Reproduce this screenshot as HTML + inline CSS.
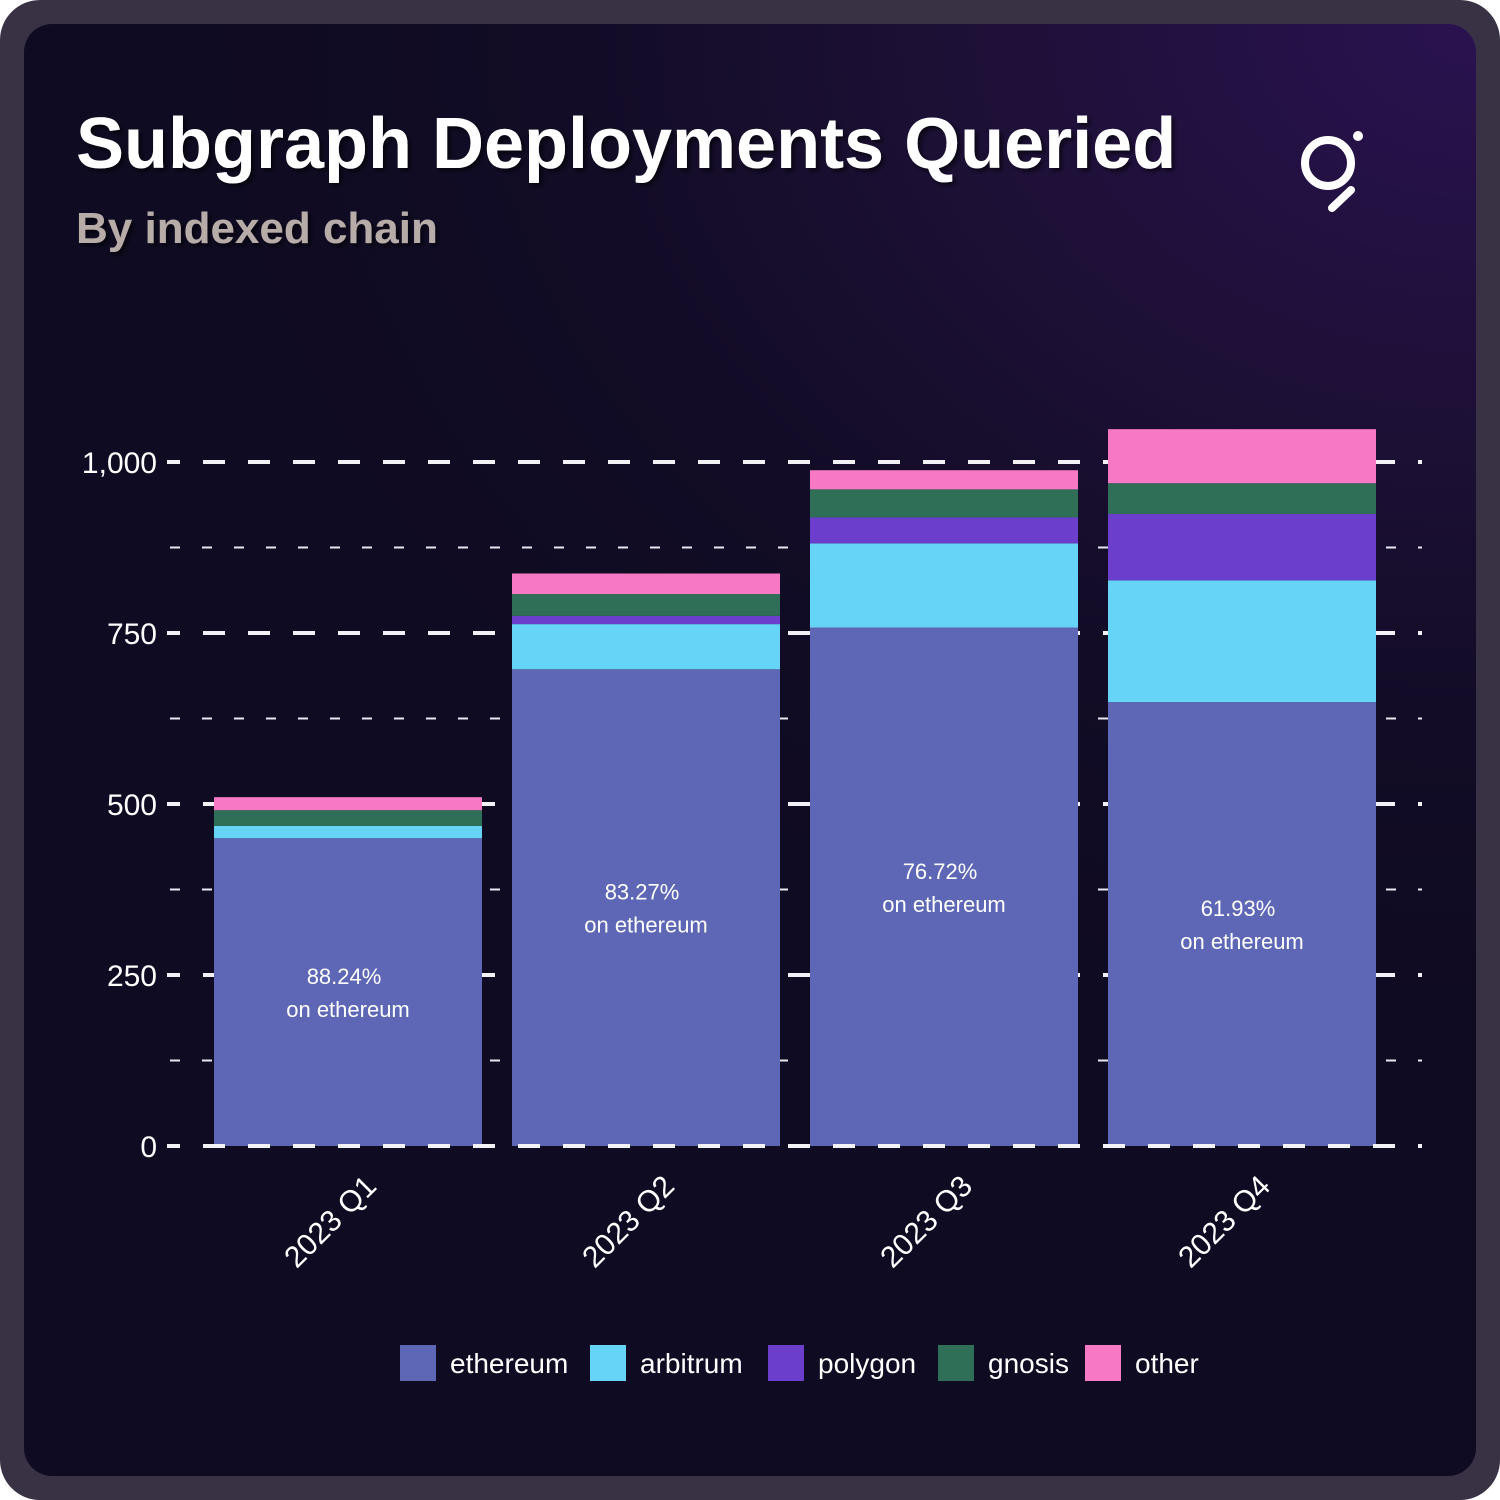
<!DOCTYPE html>
<html><head><meta charset="utf-8"><style>
html,body{margin:0;padding:0;background:#ffffff;}
body{width:1500px;height:1500px;overflow:hidden;font-family:"Liberation Sans",sans-serif;}
#frame{position:absolute;left:0;top:0;width:1500px;height:1500px;border-radius:40px;background:#393245;}
#card{position:absolute;left:24px;top:24px;width:1452px;height:1452px;border-radius:28px;
background:radial-gradient(ellipse 1300px 1000px at 1452px 0px,#2a1250 0%,#1d1036 40%,#120c26 70%,#0f0b22 100%);}
</style></head><body>
<div id="frame"></div>
<div id="card"></div>
<svg width="1500" height="1500" style="position:absolute;left:0;top:0" id="chart">
<defs><filter id="sh" x="-5%" y="-20%" width="110%" height="140%"><feDropShadow dx="3" dy="3" stdDeviation="2" flood-color="#000" flood-opacity="0.6"/></filter></defs>
<text x="76" y="168" font-size="72" font-weight="bold" fill="#fff" filter="url(#sh)">Subgraph Deployments Queried</text>
<text x="76" y="243" font-size="44" font-weight="bold" fill="#b8aca8" filter="url(#sh)">By indexed chain</text>
<g fill="none" stroke="#fff" stroke-linecap="round">
<circle cx="1328" cy="163" r="23" stroke-width="8"/>
<line x1="1351" y1="190" x2="1332" y2="208" stroke-width="8"/>
<circle cx="1358" cy="136" r="5" fill="#fff" stroke="none"/>
</g>
<g id="grid"></g><g id="bars"></g><g id="axis"></g><g id="legend"></g>
</svg>
<script>
const categories=["2023 Q1","2023 Q2","2023 Q3","2023 Q4"];
const seriesNames=["ethereum","arbitrum","polygon","gnosis","other"];
const ethereum=[450,697,758,649];
const arbitrum=[18,66,123,178];
const polygon=[0,12,38,97];
const gnosis=[23,32,41,45];
const other=[19,30,28,79];
const majorTicks=[0,250,500,750,1000];
const tickLabels=["0","250","500","750","1,000"];
const minorTicks=[125,375,625,875];
const colors=["#5e67b5","#66d4f7","#6b3fcc","#2f6e57","#f778c4"];
const series=[ethereum,arbitrum,polygon,gnosis,other];
const NS="http://www.w3.org/2000/svg";
const y0=1146, pxPer=0.684;
const yS=v=>y0-v*pxPer;
const xS=i=>214+i*298, bw=268;
function mk(tag,attrs,parent,text){const e=document.createElementNS(NS,tag);for(const k in attrs)e.setAttribute(k,attrs[k]);if(text!=null)e.textContent=text;parent.appendChild(e);return e;}
const grid=document.getElementById('grid'),bars=document.getElementById('bars'),axis=document.getElementById('axis'),legend=document.getElementById('legend');
minorTicks.forEach(t=>{const l=mk('line',{x1:170,x2:1422,y1:yS(t),y2:yS(t),stroke:'#e8e8f0','stroke-width':2,'stroke-dasharray':'10 22'},grid);

});
majorTicks.forEach((t,i)=>{
if(t>0){const l=mk('line',{x1:203,x2:1422,y1:yS(t),y2:yS(t),stroke:'#f2f2f6','stroke-width':4,'stroke-dasharray':'22 23'},grid);

}
const tk=mk('line',{x1:167,x2:180,y1:yS(t),y2:yS(t),stroke:'#f2f2f6','stroke-width':4},axis);


const tx=mk('text',{x:157,y:yS(t)+11,'text-anchor':'end','font-size':30,fill:'#fff'},axis,tickLabels[i]);

});
categories.forEach((c,i)=>{
let acc=0;const g=mk('g',{},bars);


series.forEach((s,k)=>{const v=s[i];const r=mk('rect',{x:xS(i),width:bw,y:yS(acc+v),height:v*pxPer,fill:colors[k]},g);

acc+=v;});
const tot=acc, pct=(ethereum[i]/tot*100).toFixed(2);
const cy=(yS(0)+yS(ethereum[i]))/2, cx=xS(i)+bw/2;
const t1=mk('text',{x:cx-4,y:cy-8,'text-anchor':'middle','font-size':22,fill:'#fff'},g,pct+'%');


const t2=mk('text',{x:cx,y:cy+25,'text-anchor':'middle','font-size':22,fill:'#fff'},g,'on ethereum');


const xl=mk('text',{transform:`translate(${cx+30},${1188}) rotate(-45)`,'text-anchor':'end','font-size':30,fill:'#fff'},axis,c);

});
const zl=mk('line',{x1:203,x2:1422,y1:y0,y2:y0,stroke:'#f2f2f6','stroke-width':4,'stroke-dasharray':'22 23'},axis);


const lx=[400,590,768,938,1085];
seriesNames.forEach((n,k)=>{const g=mk('g',{},legend);


mk('rect',{x:lx[k],y:1345,width:36,height:36,fill:colors[k]},g);
mk('text',{x:lx[k]+50,y:1373,'font-size':28,fill:'#fff'},g,n);});
</script>
</body></html>
